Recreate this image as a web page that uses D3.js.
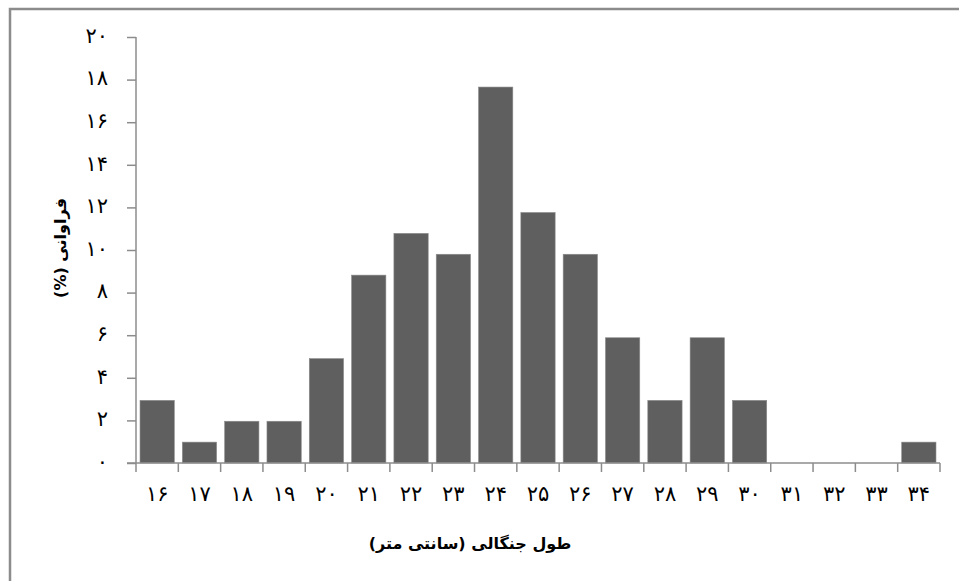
<!DOCTYPE html>
<html><head><meta charset="utf-8">
<script src="https://cdn.jsdelivr.net/npm/d3@7"></script>
<style>body{margin:0;background:#fff}svg{display:block}</style>
</head><body>
<svg id="c" width="959" height="581"></svg>
<script>
const categories = ["16","17","18","19","20","21","22","23","24","25","26","27","28","29","30","31","32","33","34"];
const values = [2.94,0.98,1.96,1.96,4.90,8.82,10.78,9.80,17.65,11.76,9.80,5.88,2.94,5.88,2.94,0,0,0,0.98];
const yTicks = [0,2,4,6,8,10,12,14,16,18,20];
const xTitle = "طول جنگالی (سانتی متر)";
const yTitle = "فراوانی (%)";

(function(){
const fa = s => String(s).replace(/\d/g, d => "۰۱۲۳۴۵۶۷۸۹"[d]);
const svg = d3.select("#c");
const font = "DejaVu Sans, sans-serif";

svg.append("path").attr("d","M10,581 V9 H959").attr("fill","none").attr("stroke","#8c8c8c").attr("stroke-width",2.5);

const L = 136, R = 940, T = 37, B = 463;
const x = d3.scaleBand().domain(categories).range([L, R]).paddingInner(0.19).paddingOuter(0.095);
const xb = d3.scaleBand().domain(categories).range([L, R]);
const y = d3.scaleLinear().domain([0,20]).range([B, T]);

svg.append("g").selectAll("rect").data(values).join("rect")
  .attr("x",(d,i)=>x(categories[i])).attr("width",x.bandwidth())
  .attr("y",d=>y(d)).attr("height",d=>y(0)-y(d))
  .attr("fill","#5f5f5f").attr("stroke","#8a8a8a").attr("stroke-width",0.6);

const gy = svg.append("g").attr("transform",`translate(${L},0)`)
  .call(d3.axisLeft(y).tickValues(yTicks).tickSize(9).tickFormat(fa).tickPadding(19));
gy.select(".domain").attr("stroke","#8c8c8c").attr("stroke-width",1.5).attr("d",`M0,${T}V${B}`);
gy.selectAll(".tick line").attr("stroke","#8c8c8c").attr("stroke-width",1.5);
gy.selectAll("text").attr("font-family",font).attr("font-size",21).attr("fill","#000").attr("dy","0.25em");

const gx = svg.append("g").attr("transform",`translate(0,${B})`);
gx.append("line").attr("x1",L-9).attr("x2",R).attr("stroke","#8c8c8c").attr("stroke-width",1.5);
const bounds = categories.map(c=>xb(c)).concat([R]);
gx.selectAll("line.t").data(bounds).join("line").attr("class","t")
  .attr("x1",d=>d).attr("x2",d=>d).attr("y1",0).attr("y2",9)
  .attr("stroke","#8c8c8c").attr("stroke-width",1.5);
gx.selectAll("text").data(categories).join("text")
  .attr("x",d=>xb(d)+xb.bandwidth()/2).attr("y",38)
  .attr("text-anchor","middle").attr("font-family",font).attr("font-size",21).attr("fill","#000")
  .text(fa);

svg.append("text").attr("x",470).attr("y",549).attr("text-anchor","middle")
  .attr("font-family",font).attr("font-weight","bold").attr("font-size",16).attr("direction","rtl")
  .text(xTitle);
svg.append("text").attr("transform","translate(66,248) rotate(-90)").attr("text-anchor","middle")
  .attr("font-family",font).attr("font-weight","bold").attr("font-size",16).attr("direction","rtl")
  .text(yTitle);
})();
</script>
</body></html>
